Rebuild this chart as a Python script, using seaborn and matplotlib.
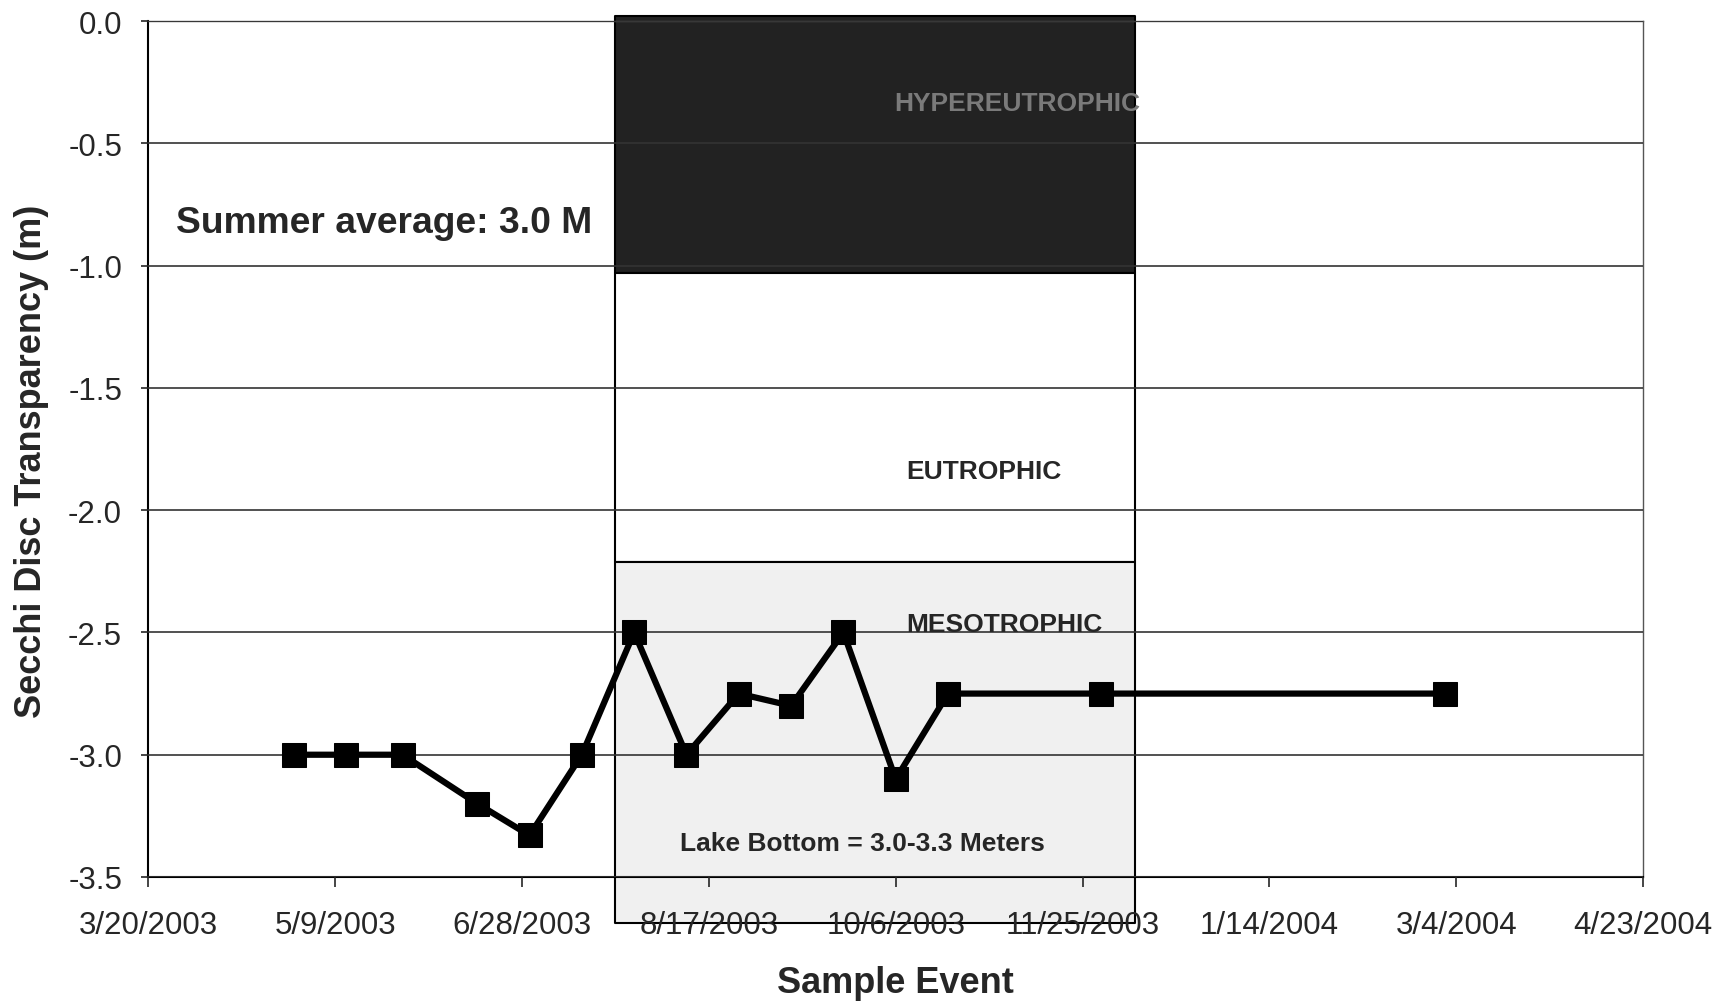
import datetime as dt
import pandas as pd
import numpy as np
import matplotlib
matplotlib.use("Agg")
import matplotlib.pyplot as plt
import matplotlib.dates as mdates
import matplotlib.ticker as mticker
import seaborn as sns

# Secchi disc readings (negative = depth below surface)
sample_dates = ["2003-04-28", "2003-05-12", "2003-05-27", "2003-06-16", "2003-06-30",
                "2003-07-14", "2003-07-28", "2003-08-11", "2003-08-25", "2003-09-08",
                "2003-09-22", "2003-10-06", "2003-10-20", "2003-11-30", "2004-03-01"]
secchi_depth = [-3.0, -3.0, -3.0, -3.2, -3.33,
                -3.0, -2.5, -3.0, -2.75, -2.8,
                -2.5, -3.1, -2.75, -2.75, -2.75]

# trophic state boxes (overlay)
zone_names = ["HYPEREUTROPHIC", "EUTROPHIC", "MESOTROPHIC"]
zone_top = [0.02, -1.03, -2.21]
zone_bottom = [-1.03, -2.21, -3.69]
zone_start = "2003-07-23"
zone_end = "2003-12-09"

x_start = "2003-03-20"
x_end = "2004-04-23"
tick_step_days = 50

df = pd.DataFrame({"date": pd.to_datetime(sample_dates), "depth": secchi_depth})

sns.set_style("white")
plt.rcParams["font.family"] = ["Liberation Sans", "DejaVu Sans"]

fig = plt.figure(figsize=(17.12, 10.04), dpi=100)
ax = fig.add_axes([0.0867, 0.1255, 0.873, 0.8525])

# zone boxes
zx = [mdates.date2num(pd.Timestamp(zone_start)), mdates.date2num(pd.Timestamp(zone_end))]
zone_colors = ["#222222", "white", "#f0f0f0"]
for top, bot, col in zip(zone_top, zone_bottom, zone_colors):
    poly = ax.fill_between(zx, [top, top], [bot, bot], facecolor=col,
                           edgecolor="black", linewidth=1.5, zorder=0.5)
    poly.set_clip_on(False)

sns.lineplot(data=df, x="date", y="depth", ax=ax, color="black", linewidth=4.5,
             marker="s", markersize=17, markeredgecolor="black", zorder=3)

ax.set_xlim(pd.Timestamp(x_start), pd.Timestamp(x_end))
ax.set_ylim(-3.5, 0.0)
ticks = pd.date_range(x_start, x_end, freq=f"{tick_step_days}D")
ax.set_xticks(ticks)
ax.xaxis.set_major_formatter(mticker.FuncFormatter(
    lambda v, p: (lambda d: f"{d.month}/{d.day}/{d.year}")(mdates.num2date(v))))
ax.set_yticks(np.arange(-3.5, 0.01, 0.5))
ax.yaxis.set_major_formatter(mticker.FormatStrFormatter("%.1f"))

ax.grid(axis="y", color="#333333", linewidth=1.2, zorder=1)
ax.set_axisbelow(False)
for s in ax.spines.values():
    s.set_color("#555555")
    s.set_linewidth(1.0)
ax.spines["left"].set_color("black")
ax.spines["left"].set_linewidth(1.5)
ax.spines["bottom"].set_color("black")
ax.spines["bottom"].set_linewidth(1.5)

ax.tick_params(axis="x", direction="out", length=7, width=1.2, pad=17, labelsize=22.5, bottom=True)
ax.tick_params(axis="y", direction="out", length=5, width=1.2, pad=14, labelsize=22.5, left=True)

ax.set_xlabel("Sample Event", fontsize=26, fontweight="bold")
ax.set_ylabel("Secchi Disc Transparency (m)", fontsize=26, fontweight="bold")
ax.xaxis.set_label_coords(0.5, -0.103)
ax.yaxis.set_label_coords(-0.0666, 0.487)

# annotations
ax.text(0.0185, 0.765, "Summer average: 3.0 M", transform=ax.transAxes,
        fontsize=26.8, fontweight="bold", va="center", ha="left")
ax.text(0.581, 0.904, zone_names[0], transform=ax.transAxes, fontsize=19,
        fontweight="bold", color="#7a7a7a", va="center", ha="center", zorder=4)
ax.text(0.559, 0.4745, zone_names[1], transform=ax.transAxes, fontsize=19,
        fontweight="bold", va="center", ha="center", zorder=4)
ax.text(0.573, 0.296, zone_names[2], transform=ax.transAxes, fontsize=19,
        fontweight="bold", va="center", ha="center", zorder=4)
ax.text(0.478, 0.0395, "Lake Bottom = 3.0-3.3 Meters", transform=ax.transAxes,
        fontsize=19, fontweight="bold", va="center", ha="center", zorder=4)

fig.savefig("out.png", dpi=100)
